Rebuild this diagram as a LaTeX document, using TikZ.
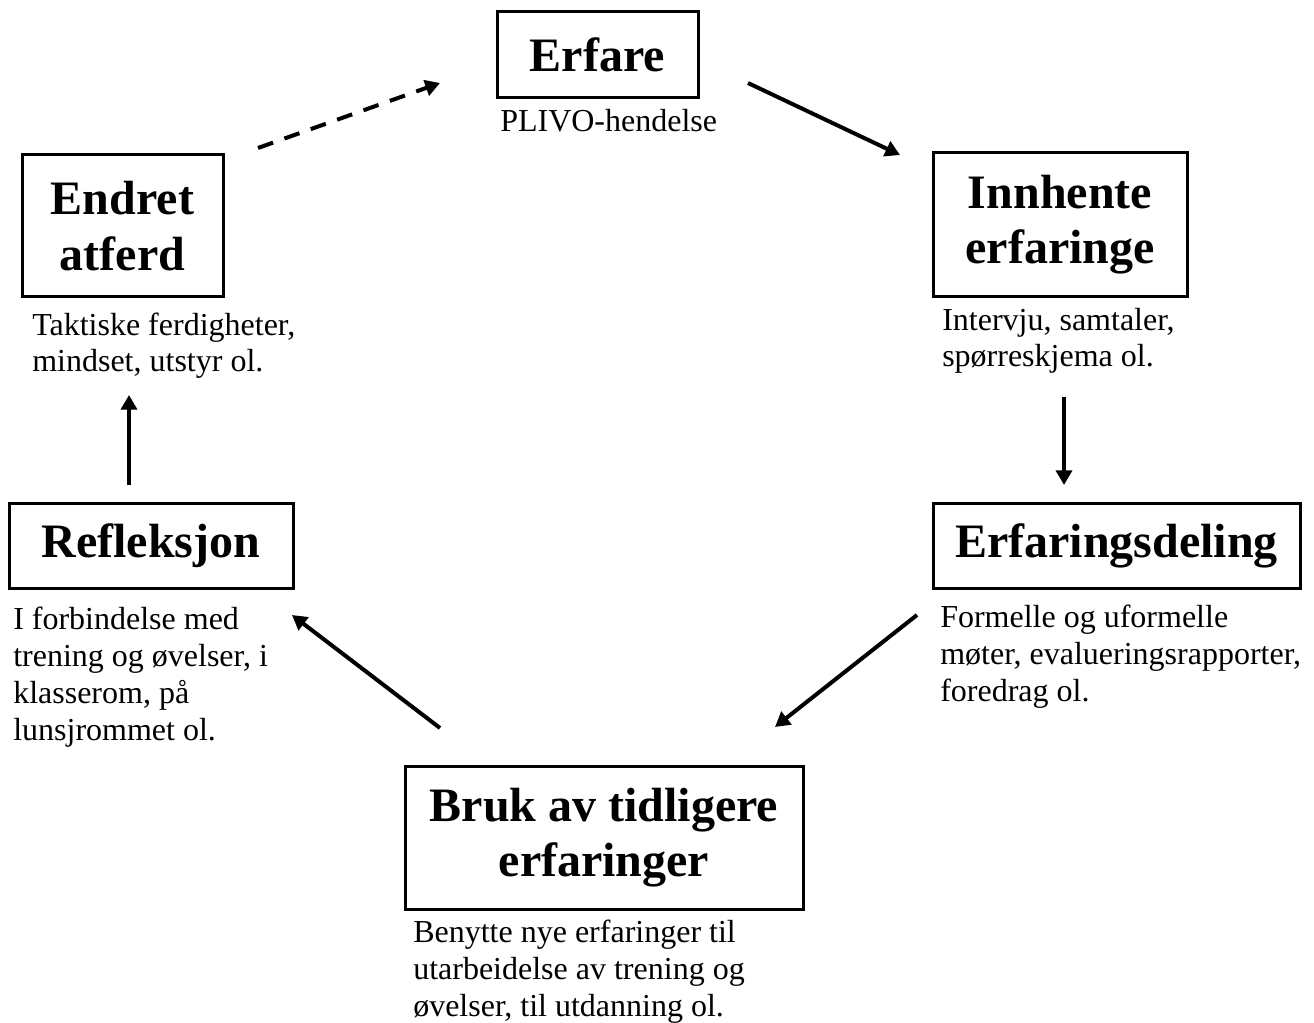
\documentclass[tikz,border=0pt]{standalone}
\usepackage{fontspec}
\setmainfont{Liberation Serif}
\usetikzlibrary{arrows.meta}
\begin{document}
\begin{tikzpicture}[x=0.75pt,y=-0.75pt,
  stage/.style={draw, line width=2.25pt, inner sep=0pt, align=center,
    font=\fontsize{36}{41.4}\selectfont\bfseries},
  note/.style={anchor=base west, inner sep=0pt, align=left,
    font=\fontsize{24}{27.6}\selectfont},
  flow/.style={line width=3pt, -{Triangle[length=11pt,width=12pt]}},
  dashflow/.style={flow, dash pattern=on 12pt off 9pt}]
\useasboundingbox (0,0) rectangle (1314,1023);

% stages of the cycle
\node[stage, minimum width=150.75pt, minimum height=64.5pt] (erfare) at (597.5,55) {Erfare};
\node[stage, minimum width=190.5pt, minimum height=108pt] (innhente) at (1060,225) {Innhente\\erfaringe};
\node[stage, minimum width=275.25pt, minimum height=63.75pt] (deling) at (1116.5,545.5) {Erfaringsdeling};
\node[stage, minimum width=298.5pt, minimum height=107.25pt] (bruk) at (604,838) {Bruk av tidligere\\erfaringer};
\node[stage, minimum width=213pt, minimum height=63.75pt] (refleksjon) at (151,545.5) {Refleksjon};
\node[stage, minimum width=150.75pt, minimum height=106.5pt] (endret) at (122.5,226) {Endret\\atferd};

% descriptions under each stage (placed by the baseline of their last line)
\node[note] (erfareTxt) at (500,132) {PLIVO-hendelse};
\node[note] (innhenteTxt) at (942,367) {Intervju, samtaler,\\spørreskjema ol.};
\node[note] (delingTxt) at (940,701) {Formelle og uformelle\\møter, evalueringsrapporter,\\foredrag ol.};
\node[note] (brukTxt) at (413,1016) {Benytte nye erfaringer til\\utarbeidelse av trening og\\øvelser, til utdanning ol.};
\node[note] (refleksjonTxt) at (13,740) {I forbindelse med\\trening og øvelser, i\\klasserom, på\\lunsjrommet ol.};
\node[note] (endretTxt) at (32,372) {Taktiske ferdigheter,\\mindset, utstyr ol.};

% arrow end points
\coordinate (a1s) at (748,83);   \coordinate (a1e) at (900,155);
\coordinate (a2s) at (1064,397); \coordinate (a2e) at (1064,485);
\coordinate (a3s) at (917,615);  \coordinate (a3e) at (775,727);
\coordinate (a4s) at (440,728);  \coordinate (a4e) at (292,615);
\coordinate (a5s) at (129,485);  \coordinate (a5e) at (129,395);
\coordinate (a6s) at (258,148);  \coordinate (a6e) at (440,83);

\draw[flow] (a1s) -- (a1e);
\draw[flow] (a2s) -- (a2e);
\draw[flow] (a3s) -- (a3e);
\draw[flow] (a4s) -- (a4e);
\draw[flow] (a5s) -- (a5e);
\draw[dashflow] (a6s) -- (a6e);
\end{tikzpicture}
\end{document}
